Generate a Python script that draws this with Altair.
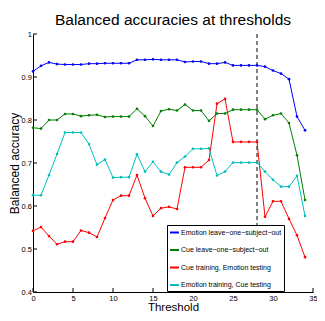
import altair as alt
import pandas as pd

thresholds = list(range(35))
series_names = [
    "Emotion leave\u2212one\u2212subject\u2212out",
    "Cue leave\u2212one\u2212subject\u2212out",
    "Cue training, Emotion testing",
    "Emotion training, Cue testing",
]
colors = ["#0000ff", "#008000", "#ff0000", "#00bfbf"]

emotion_loso = [0.913, 0.926, 0.934, 0.930, 0.929, 0.929, 0.929, 0.931, 0.931, 0.932,
                0.932, 0.932, 0.932, 0.940, 0.940, 0.941, 0.940, 0.940, 0.940, 0.935,
                0.936, 0.936, 0.931, 0.931, 0.934, 0.927, 0.927, 0.927, 0.927, 0.924,
                0.915, 0.908, 0.895, 0.808, 0.776]
cue_loso = [0.782, 0.780, 0.800, 0.800, 0.814, 0.814, 0.809, 0.811, 0.812, 0.807,
            0.808, 0.808, 0.808, 0.826, 0.809, 0.786, 0.821, 0.825, 0.822, 0.836,
            0.822, 0.822, 0.798, 0.815, 0.815, 0.824, 0.824, 0.824, 0.824, 0.802,
            0.811, 0.815, 0.793, 0.718, 0.614]
cue_train_emo_test = [0.542, 0.551, 0.530, 0.511, 0.517, 0.517, 0.543, 0.538, 0.528, 0.572,
                      0.614, 0.624, 0.624, 0.672, 0.618, 0.577, 0.595, 0.598, 0.593, 0.690,
                      0.690, 0.690, 0.707, 0.838, 0.849, 0.749, 0.749, 0.749, 0.749, 0.575,
                      0.611, 0.611, 0.570, 0.532, 0.481]
emo_train_cue_test = [0.625, 0.625, 0.672, 0.721, 0.771, 0.771, 0.771, 0.744, 0.696, 0.708,
                      0.666, 0.667, 0.667, 0.720, 0.680, 0.703, 0.680, 0.673, 0.701, 0.715,
                      0.733, 0.733, 0.734, 0.671, 0.680, 0.701, 0.701, 0.701, 0.701, 0.680,
                      0.661, 0.645, 0.645, 0.670, 0.577]

cutoff = [28]
x_ticks = [0, 5, 10, 15, 20, 25, 30, 35]
y_ticks = [0.4, 0.5, 0.6, 0.7, 0.8, 0.9, 1.0]

rows = []
for name, vals in zip(series_names, [emotion_loso, cue_loso, cue_train_emo_test, emo_train_cue_test]):
    for t, v in zip(thresholds, vals):
        rows.append({"series": name, "t": t, "acc": v})
df = pd.DataFrame(rows)

FONT = "Liberation Sans, Arial, sans-serif"
W, H = 280, 258

xscale = alt.Scale(domain=[0, 35], nice=False, zero=False)
yscale = alt.Scale(domain=[0.4, 1.0], nice=False, zero=False)
xaxis = alt.Axis(title="Threshold", values=x_ticks, format="d",
                 titleFontSize=11.5, titlePadding=0, labelPadding=2,
                 labelOverlap=False, labelFlush=False)
yaxis = alt.Axis(title="Balanced accuracy", values=y_ticks, format=".1~f",
                 titleFontSize=12, titlePadding=0, labelPadding=1.5,
                 labelOverlap=False, labelFlush=False)

lines = alt.Chart(df).mark_line(
    strokeWidth=1, point=alt.OverlayMarkDef(size=7, filled=True)
).encode(
    x=alt.X("t:Q", scale=xscale, axis=xaxis),
    y=alt.Y("acc:Q", scale=yscale, axis=yaxis),
    color=alt.Color("series:N", sort=series_names,
                    scale=alt.Scale(domain=series_names, range=colors),
                    legend=alt.Legend(title=None)),
    order=alt.Order("t:Q"),
)

dash = alt.Chart(pd.DataFrame({"t": cutoff})).mark_rule(
    color="black", strokeDash=[4, 3], strokeWidth=1
).encode(x=alt.X("t:Q", scale=xscale, axis=xaxis), y=alt.value(0), y2=alt.value(H))

xt = alt.Chart(pd.DataFrame({"t": x_ticks})).mark_rule(color="black", strokeWidth=1).encode(
    x=alt.X("t:Q", scale=xscale, axis=xaxis), y=alt.value(H), y2=alt.value(H - 4))
yt = alt.Chart(pd.DataFrame({"acc": y_ticks})).mark_rule(color="black", strokeWidth=1).encode(
    y=alt.Y("acc:Q", scale=yscale, axis=yaxis), x=alt.value(0), x2=alt.value(4))

chart = alt.layer(dash, xt, yt, lines).properties(
    width=W, height=H,
    title=alt.TitleParams("Balanced accuracies at thresholds", font=FONT, fontSize=15.5,
                          fontWeight="normal", color="black", anchor="middle", offset=2),
    autosize=alt.AutoSizeParams(type="none"),
    padding={"left": 25, "top": 26, "right": 4, "bottom": 21},
).configure_view(stroke=None).configure_axis(
    grid=False, domainColor="black", domainWidth=1, tickSize=0,
    labelFont=FONT, labelFontSize=7.5, labelColor="black",
    titleFont=FONT, titleFontWeight="normal", titleColor="black",
).configure_legend(
    orient="none", legendX=134, legendY=191, strokeColor="black", fillColor="white",
    padding=2, labelFont=FONT, labelFontSize=7, labelColor="black",
    symbolType="stroke", symbolSize=81, symbolStrokeWidth=2, rowPadding=7.5,
    labelOffset=1, cornerRadius=0,
)

chart.save("out.html", embed_options={"renderer": "svg", "actions": False})
